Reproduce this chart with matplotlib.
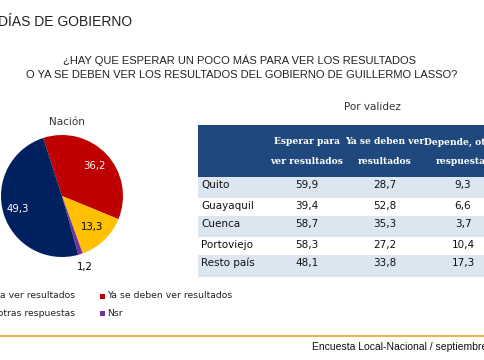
import numpy as np
import matplotlib.pyplot as plt
from matplotlib.patches import Rectangle

# pie data (Nación)
pie_labels = ['Ya se deben ver resultados', 'Depende, otras respuestas', 'Nsr',
              'Esperar para ver resultados']
pie_values = [36.2, 13.3, 1.2, 49.3]
pie_colors = ['#C00000', '#FFC000', '#7030A0', '#002060']
pie_txtcol = ['white', 'black', 'black', 'white']
pie_dist = [0.73, 0.70, 1.22, 0.76]

# table data (Por validez)
cities = ['Quito', 'Guayaquil', 'Cuenca', 'Portoviejo', 'Resto país']
esperar = [59.9, 39.4, 58.7, 58.3, 48.1]
ya_deben = [28.7, 52.8, 35.3, 27.2, 33.8]
depende = [9.3, 6.6, 3.7, 10.4, 17.3]
headers = ['Esperar para\nver resultados', 'Ya se deben ver\nresultados',
           'Depende, otras\nrespuestas']


def fmt(v):
    return f'{v:.1f}'.replace('.', ',')


W, H = 485, 360
fig = plt.figure(figsize=(W / 100, H / 100), dpi=100)

# background axes in pixel coordinates
bg = fig.add_axes([0, 0, 1, 1])
bg.set_xlim(0, W)
bg.set_ylim(H, 0)
bg.axis('off')

sans = 'Liberation Sans'
bg.text(-2, 22, 'DÍAS DE GOBIERNO', fontsize=10, family=sans, va='center', color='#222222')
bg.text(240, 60, '¿HAY QUE ESPERAR UN POCO MÁS PARA VER LOS RESULTADOS',
        fontsize=8, family=sans, ha='center', va='center', color='#222222')
bg.text(242, 75, 'O YA SE DEBEN VER LOS RESULTADOS DEL GOBIERNO DE GUILLERMO LASSO?',
        fontsize=8, family=sans, ha='center', va='center', color='#222222')

bg.text(67, 122, 'Nación', fontsize=7.5, ha='center', va='center', color='#333333')
bg.text(372, 107, 'Por validez', fontsize=7.5, ha='center', va='center', color='#333333')

# table
x0, x1 = 198, 490
col_x = [307, 385, 463]
bg.add_patch(Rectangle((x0, 125), x1 - x0, 52, color='#1F497D', lw=0))
for j, h in enumerate(headers):
    l1, l2 = h.split('\n')
    bg.text(col_x[j], 142, l1, fontsize=6.6, family='DejaVu Serif', weight='bold',
            ha='center', va='center', color='white')
    bg.text(col_x[j], 162, l2, fontsize=6.6, family='DejaVu Serif', weight='bold',
            ha='center', va='center', color='white')

row_top = [177, 198, 216, 237, 255]
row_bot = [198, 216, 237, 255, 277]
for i, c in enumerate(cities):
    if i % 2 == 0:
        bg.add_patch(Rectangle((x0, row_top[i]), x1 - x0, row_bot[i] - row_top[i],
                               color='#DCE6F1', lw=0))
    yc = row_top[i] + 8
    bg.text(201, yc, c, fontsize=7.5, va='center', color='#111111')
    for j, vals in enumerate([esperar, ya_deben, depende]):
        bg.text(col_x[j], yc, fmt(vals[i]), fontsize=7.5, ha='center', va='center',
                color='#111111')

# legend
leg = [(75, 296, 3), (75, 313, 1), (100, 296, 0), (100, 313, 2)]
for lx, ly, k in leg:
    if k in (3, 1):
        bg.text(lx, ly, pie_labels[k], fontsize=6.7, ha='right', va='center', color='#222222')
        bg.add_patch(Rectangle((lx - 120, ly - 2.5), 5, 5, color=pie_colors[k], lw=0))
    else:
        bg.add_patch(Rectangle((lx, ly - 2.5), 5, 5, color=pie_colors[k], lw=0))
        bg.text(lx + 7, ly, pie_labels[k], fontsize=6.7, va='center', color='#222222')

# footer
bg.plot([0, W], [336, 336], color='#E3A82B', lw=1.2)
bg.text(312, 347, 'Encuesta Local-Nacional / septiembre 2021', fontsize=7.5,
        family=sans, va='center', color='#111111')

# pie
cx, cy, r = 62, 196, 61
pax = fig.add_axes([(cx - r) / W, 1 - (cy + r) / H, 2 * r / W, 2 * r / H])
wedges, _ = pax.pie(pie_values, colors=pie_colors, startangle=108, counterclock=False,
                    wedgeprops=dict(lw=0))
pax.set_xlim(-1, 1)
pax.set_ylim(-1, 1)
pax.set_aspect('auto')
for w, v, tc, d in zip(wedges, pie_values, pie_txtcol, pie_dist):
    ang = np.deg2rad((w.theta1 + w.theta2) / 2)
    pax.text(d * np.cos(ang), d * np.sin(ang), fmt(v), fontsize=7.3, ha='center',
             va='center', color=tc, clip_on=False)

fig.savefig('out.png', dpi=100)
